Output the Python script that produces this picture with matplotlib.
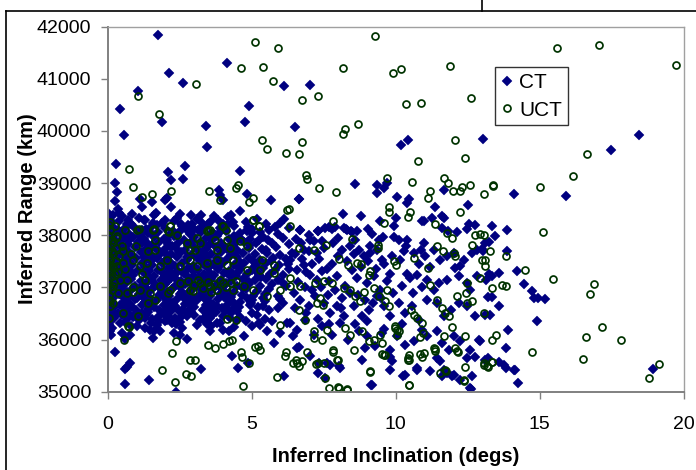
import matplotlib
matplotlib.use("Agg")
import matplotlib.pyplot as plt
from matplotlib.lines import Line2D

plt.rcParams['font.family'] = ['Liberation Sans', 'DejaVu Sans']

# ---------------- CT (correlated tracks) ----------------
ct_high = [(1.74,41850),(0.45,40420),(0.56,39920),(1.05,40760),(1.90,40165),(2.13,41110),(2.61,40920),
    (3.41,40090),(3.44,39690),(4.13,41300),(4.90,40470),(4.77,40170),(6.13,40860),(7.02,40880),(6.51,40080),
    (10.19,39740),(10.42,39820),(13.02,39840),(18.45,39915),(17.47,39640),
    (0.30,39370),(0.27,39010),(0.32,38830),(0.26,38660),(0.38,38500),(0.41,38420),(1.13,38700),(1.20,38540),
    (1.28,38300),(1.56,38640),(1.68,38420),(2.0,38680),(2.05,38720),(2.11,39215),(2.2,39065),(2.2,38550),
    (2.52,38410),(2.62,39085),(2.70,39335),(2.90,38380),(2.92,38210),(3.24,38380),(3.49,38220),(3.88,38860),
    (3.91,38770),(4.0,38680),(4.17,38345),(4.58,39230),(4.60,38465),(4.83,38800),(4.83,38080),(5.03,38045),
    (5.67,38670),(6.14,38305),(6.65,38700),(6.68,38105),(7.3,38090),(7.80,38120),(8.19,38140),(8.17,38410),
    (8.3,38105),(8.57,38980),(9.35,38970),(9.36,38820),(9.58,38905),(9.70,39000),(10.03,38735),(10.46,38705),
    (10.38,38620),(11.67,38875),(11.37,38540),(12.52,38585),(14.09,38785),(15.92,38745),(8.78,38375),
    (10.9,38265),(10.97,38265),(11.26,38330),(11.68,38335),(12.55,38215),(13.33,38185),(13.87,38105),
    (9.95,38170),(8.27,38120),(8.49,38055),(11.6,38375),(10.02,38331)]

ct_right = [(13.43,37980),(13.22,37865),(12.99,37735),(13.03,37690),(13.87,37705),(14.2,37320),(13.59,37285),
    (13.22,37265),(13.34,37210),(13.14,37135),(14.44,37070),(14.73,36925),(14.78,36795),(14.92,36795),
    (15.19,36775),(13.19,36825),(13.33,36810),(13.59,36635),(13.08,36480),(13.26,36480),(14.9,36365),
    (13.9,36185),(12.93,35980),(13.81,35835),(13.19,35645),(13.11,35615),(13.59,35570),(13.83,35455),
    (14.13,35410),(14.25,35170),(18.92,35440)]

ct_low = [(0.27,35755),(0.61,35140),(0.61,35435),(0.78,35550),(0.67,35475),(1.43,35215),(2.38,35000),
    (2.76,36020),(3.26,35440),(0.61,36020),(1.59,36030),(4.33,35690),(4.51,35445),(4.89,35550),(6.12,35295),
    (6.65,35855),(7.35,35550),(7.3,35360),(7.55,35260),(7.73,35520),(8.03,35485),(9.15,35135),(10.24,35310),
    (10.73,35455),(11.2,35390),(11.66,35420),(11.78,35360),(11.95,35295),(12.24,35230),(12.65,35310),
    (12.62,35050),(13.74,35505),(14.11,35420),(9.87,35580),(9.81,35660),(8.93,35830),(12.47,35645),
    (12.76,35675),(11.43,35645),(11.55,35580),(3.1,36285),(3.56,36160),(5.24,36320),(5.53,36160),(5.76,35935),
    (1.48,36190),(1.77,36350),(1.82,36160),(0.43,36320),(0.78,36095),(1.01,36255),(1.3,36415),(2.23,36320),
    (2.52,36095),(2.75,36445),(3.79,36320),(4.02,36190),(4.49,36380),(4.72,36065),(5.01,36255),(5.99,36125),
    (6.22,36320),(6.45,36065)]

ct_zero = [(0.05,38350),(0.12,38280),(0.03,38200),(0.2,38150),(0.08,38100),(0.3,38050),(0.04,37990),
    (0.15,37940),(0.25,37900),(0.06,37850),(0.35,37820),(0.1,37780),(0.02,37720),(0.22,37690),(0.3,37640),
    (0.07,37600),(0.16,37560),(0.04,37500),(0.28,37470),(0.11,37430),(0.02,37380),(0.2,37340),(0.33,37300),
    (0.06,37260),(0.14,37210),(0.03,37160),(0.25,37120),(0.09,37080),(0.18,37030),(0.02,36990),(0.3,36950),
    (0.1,36900),(0.05,36850),(0.2,36800),(0.12,36740),(0.03,36690),(0.27,36650),(0.08,36600),(0.15,36540),
    (0.04,36480),(0.22,36420),(0.1,36360),(0.05,36300),(0.16,36230),(0.07,36160),(0.12,36090),(0.03,38420),
    (0.18,38390)]

ct_core = [(0.5,38370),(1.1,38330),(1.6,38390),(2.4,38340),(3.1,38310),(4.3,38380),(5.2,38320),(0.85,38400),(3.7,38360),
    (0.4,38270),(0.8,38215),(1.3,38290),(1.9,38230),(2.3,38265),(2.8,38200),(3.6,38280),(4.0,38225),(4.8,38260),(5.5,38210),(6.0,38240),
    (0.6,38130),(0.9,38185),(1.2,38110),(1.5,38165),(2.0,38140),(2.6,38170),(3.0,38120),(3.4,38160),(3.9,38135),(4.4,38175),(5.0,38115),(5.8,38150),(6.3,38130),
    (0.45,38070),(0.75,38020),(1.05,38085),(1.4,38040),(1.75,38060),(2.15,38010),(2.5,38075),(2.85,38030),(3.25,38065),(3.7,38015),(4.1,38080),(4.6,38035),(5.3,38055),(5.9,38020),
    (0.55,37930),(0.9,37975),(1.25,37920),(1.6,37960),(1.95,37935),(2.3,37985),(2.65,37915),(3.0,37965),(3.4,37940),(3.8,37980),(4.2,37925),(4.55,37955),(4.95,37930),(5.4,37970),(6.1,37940),
    (0.4,37870),(0.7,37830),(1.05,37865),(1.4,37825),(1.8,37880),(2.1,37840),(2.45,37860),(2.8,37820),(3.2,37875),(3.55,37835),(3.95,37855),(4.35,37815),(4.75,37870),(5.15,37845),(5.7,37860),(6.3,37825),
    (0.6,37735),(0.95,37770),(1.3,37725),(1.65,37760),(2.0,37740),(2.35,37775),(2.7,37720),(3.05,37765),(3.4,37730),(3.75,37770),(4.15,37745),(4.5,37715),(4.9,37760),(5.35,37735),(5.85,37770),
    (0.45,37665),(0.8,37630),(1.15,37670),(1.5,37625),(1.85,37660),(2.2,37635),(2.55,37675),(2.9,37620),(3.25,37655),(3.6,37640),(3.95,37670),(4.3,37625),(4.7,37660),(5.1,37635),(5.55,37665),(6.0,37630),(6.4,37655),
    (0.65,37535),(1.0,37570),(1.35,37525),(1.7,37560),(2.05,37540),(2.4,37575),(2.75,37520),(3.1,37565),(3.45,37530),(3.8,37570),(4.15,37545),(4.55,37515),(4.9,37560),(5.3,37535),(5.75,37570),(6.2,37540),
    (0.5,37465),(0.85,37430),(1.2,37470),(1.55,37425),(1.9,37460),(2.25,37435),(2.6,37475),(2.95,37420),(3.3,37455),(3.65,37440),(4.0,37470),(4.4,37425),(4.75,37460),(5.15,37435),(5.5,37465),(5.95,37430),
    (0.4,37335),(0.7,37370),(1.05,37325),(1.4,37360),(1.75,37340),(2.1,37375),(2.45,37320),(2.8,37365),(3.15,37330),(3.5,37370),(3.85,37345),(4.2,37315),(4.6,37360),(5.0,37335),(5.4,37370),(5.8,37340),(6.3,37355),
    (0.55,37265),(0.9,37230),(1.25,37270),(1.6,37225),(1.95,37260),(2.3,37235),(2.65,37275),(3.0,37220),(3.35,37255),(3.7,37240),(4.05,37270),(4.45,37225),(4.85,37260),(5.25,37235),(5.65,37265),(6.1,37230),
    (0.45,37135),(0.8,37170),(1.15,37125),(1.5,37160),(1.85,37140),(2.2,37175),(2.55,37120),(2.9,37165),(3.25,37130),(3.6,37170),(3.95,37145),(4.3,37115),(4.7,37160),(5.1,37135),(5.5,37170),(5.9,37140),
    (0.6,37065),(0.95,37030),(1.3,37070),(1.65,37025),(2.0,37060),(2.35,37035),(2.7,37075),(3.05,37020),(3.4,37055),(3.75,37040),(4.1,37070),(4.5,37025),(4.9,37060),(5.3,37035),(5.7,37065),(6.2,37030),
    (0.5,36935),(0.85,36970),(1.2,36925),(1.55,36960),(1.9,36940),(2.25,36975),(2.6,36920),(2.95,36965),(3.3,36930),(3.65,36970),(4.0,36945),(4.4,36915),(4.8,36960),(5.2,36935),(5.6,36970),
    (0.4,36865),(0.75,36830),(1.1,36870),(1.45,36825),(1.8,36860),(2.15,36835),(2.5,36875),(2.85,36820),(3.2,36855),(3.55,36840),(3.9,36870),(4.3,36825),(4.65,36860),(5.05,36835),(5.45,36865),(5.9,36830),
    (0.6,36735),(0.95,36770),(1.3,36725),(1.7,36760),(2.05,36740),(2.4,36775),(2.8,36720),(3.1,36765),(3.5,36730),(3.85,36770),(4.2,36745),(4.6,36715),(5.0,36760),(5.45,36735),(6.0,36770),
    (0.45,36665),(0.85,36630),(1.2,36670),(1.6,36625),(1.95,36660),(2.35,36635),(2.7,36675),(3.0,36620),(3.4,36655),(3.8,36640),(4.15,36670),(4.55,36625),(4.95,36660),(5.4,36635),
    (0.55,36535),(1.0,36570),(1.4,36525),(1.8,36560),(2.2,36540),(2.6,36575),(2.9,36520),(3.3,36565),(3.75,36530),(4.1,36570),(4.5,36545),(5.0,36515),(5.6,36560),
    (0.5,36465),(0.9,36430),(1.35,36470),(1.75,36425),(2.1,36460),(2.55,36435),(3.0,36475),(3.55,36420),(4.0,36455),(4.6,36440),(5.2,36470),
    (0.6,36335),(1.1,36370),(1.5,36325),(2.0,36360),(2.5,36340),(3.2,36375),(3.9,36320),(4.8,36365),
    (0.8,36265),(1.3,36230),(1.7,36270),(2.6,36225),(3.6,36260),(4.4,36235),(5.3,36270),
    (0.5,36135),(1.6,36170),(2.3,36125),(4.2,36160)]

ct_core_extra = [(0.33,37020),(0.72,37390),(1.02,36790),(1.37,37610),(1.62,37080),(1.97,37490),(2.27,36700),
    (2.58,37300),(2.88,37880),(3.18,37190),(3.52,36590),(3.83,37400),(4.08,36880),(4.38,37700),(4.68,37000),
    (5.08,37400),(5.38,36800),(5.68,37500),(6.05,37100),(0.38,37600),(0.68,36580),(1.12,38000),(1.42,36950),
    (1.77,37700),(2.07,36380),(2.42,37150),(2.72,38120),(3.02,36800),(3.33,37520),(3.67,38050),(3.98,36600),
    (4.28,37250),(4.62,37920),(4.97,36700),(5.32,37200),(5.62,38100),(5.92,36600),(6.25,37450),(0.82,37300),
    (1.18,37850),(1.48,36650),(1.88,37300),(2.18,37800),(2.48,36550),(2.92,37050),(3.28,38230),(3.58,36450),
    (3.9,37100),(4.22,36550),(4.52,37300),(4.88,38150),(5.22,36620),(5.58,37900),(6.08,36700),(0.95,36480),
    (1.58,38230),(2.38,36300),(3.45,36300),(4.35,38250),(5.45,36400),(0.35,36500),(0.7,38300),(2.0,38300),
    (3.85,38300),(5.7,36350)]

ct_core_fill = [(0.68,38210),(1.72,38190),(2.55,38220),(3.32,38185),(4.15,38205),
    (0.35,38095),(1.32,38120),(2.28,38080),(3.15,38110),(3.95,38090),(4.85,38105),
    (0.62,37990),(1.55,38015),(2.4,37980),(3.55,38020),(4.4,37995),
    (0.75,37905),(1.12,37885),(2.05,37915),(2.95,37890),(3.62,37910),(4.45,37880),(5.25,37905),
    (0.52,37795),(1.55,37815),(2.25,37790),(3.35,37810),(4.05,37785),(4.95,37805),
    (0.72,37690),(1.42,37710),(2.48,37685),(3.18,37705),(4.3,37695),(5.5,37710),
    (0.58,37610),(1.28,37585),(2.08,37615),(2.75,37590),(3.45,37605),(4.5,37590),
    (0.78,37490),(1.52,37510),(2.17,37495),(3.25,37515),(3.98,37485),(5.05,37505),
    (0.55,37410),(1.3,37385),(2.35,37405),(3.05,37390),(3.75,37410),(4.55,37395),
    (0.62,37290),(1.45,37310),(2.2,37295),(2.95,37315),(3.55,37285),(4.3,37305),(5.2,37295),
    (0.72,37190),(1.4,37210),(2.1,37185),(2.8,37205),(3.5,37195),(4.25,37210),
    (0.62,37110),(1.32,37090),(2.05,37105),(2.75,37095),(3.42,37110),(4.12,37090),(4.9,37105),
    (0.48,36990),(1.15,37010),(1.82,36985),(2.5,37005),(3.2,36995),(3.9,37010),(4.7,36990),
    (0.68,36910),(1.38,36890),(2.05,36905),(2.78,36890),(3.45,36910),(4.2,36895),
    (0.58,36790),(1.22,36810),(1.98,36795),(2.65,36805),(3.35,36790),(4.05,36810),(4.85,36795),
    (0.78,36690),(1.5,36710),(2.2,36695),(2.95,36705),(3.65,36690),(4.4,36710),
    (0.65,36610),(1.4,36590),(2.05,36605),(2.85,36595),(3.6,36610),(4.35,36590),
    (0.75,36490),(1.2,36510),(1.95,36495),(2.75,36505),(3.45,36490),(4.3,36510),
    (0.7,36410),(1.55,36390),(2.35,36405),(3.3,36395),(4.25,36405)]

ct_mid = [(6.66,38695),(6.69,38107),(7.31,38088),(7.55,38139),(7.7,38152),(7.9,38158),(8.46,38075),(8.65,38088),
    (9.02,38120),(9.18,38030),(9.44,38267),(9.42,37915),(9.56,37960),(9.93,37966),(10.1,37915),(10.39,37915),
    (10.37,37787),(10.99,37851),(11.6,38139),(11.8,38075),(12.13,38056),(12.47,38120),(12.76,38203),(13.11,37851),
    (6.54,37928),(7.03,37915),(7.17,37883),(7.44,37883),(6.8,37724),(6.98,37691),(7.27,37659),(7.84,37851),
    (8.13,37724),(8.42,37787),(8.71,37724),(8.89,37596),(9.12,37660),(9.35,37724),(9.52,37532),(9.87,37596),
    (10.16,37532),(10.62,37660),(10.88,37724),(11.03,37596),(11.34,37724),(11.55,37532),(11.78,37596),
    (12.01,37660),(12.24,37404),(12.36,37532),(12.65,37660),(12.82,37724),
    (6.34,37532),(6.57,37340),(6.8,37436),(7.03,37244),(7.27,37148),(7.44,37308),(7.67,37116),(7.96,37212),
    (8.25,37021),(8.48,37340),(8.65,37180),(9.0,37085),(9.23,37212),(9.46,36956),(9.7,37116),(10.22,37021),
    (10.51,37180),(10.74,37244),(11.08,37148),(11.32,36956),(11.49,37085),(11.78,37148),(12.07,37372),
    (12.18,37212),(12.47,37085),(12.59,36956),(12.82,37212),
    (6.46,36892),(6.69,36764),(6.98,36636),(7.21,36828),(7.5,36700),(7.73,36508),(7.96,36636),(8.19,36445),
    (8.54,36636),(8.83,36445),(9.06,36572),(9.35,36828),(9.58,36636),(9.81,36445),(10.1,36700),(10.33,36508),
    (10.56,36636),(10.8,36380),(11.08,36764),(11.43,36700),(11.66,36445),(11.9,36572),(12.18,36700),
    (12.47,36636),(12.76,36445),
    (6.34,36316),(6.57,36189),(6.86,36380),(7.15,36093),(7.44,36253),(7.79,36093),(8.08,36316),(8.36,35997),
    (8.71,36157),(9.0,36061),(9.29,35870),(9.52,36125),(9.81,35806),(10.04,36061),(10.33,35901),(10.62,35965),
    (10.91,36189),(11.08,36061),(11.43,36157),(11.6,35933),(11.84,35806),(12.01,36061),(12.24,35965),
    (12.59,35806),(12.88,35997),
    (6.57,35838),(7.03,35678),(7.61,35550),(8.08,35454),(8.83,35614),(9.18,35134),(9.81,35422),(10.33,35326),
    (10.74,35422),(11.6,35294),(12.01,35326),(12.59,35070),
    (6.5,37650),(6.75,37550),(6.9,37300),(7.1,37450),(7.35,37550),(7.6,37350),(7.8,37450),(8.0,37600),
    (8.3,37500),(8.55,37650),(8.8,37400),(9.05,37500),(9.3,37350),(9.6,37450),(9.8,37250),(6.6,37100),
    (6.85,37000),(7.1,36950),(7.4,37000),(7.65,36850),(7.9,36950),(8.15,36800),(8.4,36900),(8.7,36850),
    (8.95,36750),(9.2,36700),(9.5,36800),(9.9,36900),(6.7,37850),(7.0,38000),(7.5,37750),(8.0,37950),
    (8.6,37900),(9.1,37800),(6.5,36600),(6.9,36500),(7.3,36400),(7.7,36300),(8.1,36600),(8.6,36300),
    (9.0,36350),(9.6,36200),(10.2,36300),(10.4,37250),(10.6,36900),(10.9,37000),(11.2,37400),(10.3,37700),
    (10.8,37450)]

# ---------------- UCT (uncorrelated tracks) ----------------
uct_high = [(1.06,40680),(1.78,40335),(3.06,40900),(4.64,41205),(5.11,41700),(5.40,41230),(5.92,41585),
    (5.75,40950),(6.74,40600),(7.31,40675),(5.35,39835),(5.54,39655),(6.19,39585),(6.64,39550),(6.74,39780),
    (8.18,41200),(9.27,41825),(8.16,39940),(8.25,40030),(8.69,40125),(9.89,41110),(10.18,41190),(10.35,40515),
    (10.86,40535),(11.88,41245),(12.60,40630),(12.06,39835),(12.39,39480),(10.78,39415),(15.58,41590),
    (17.06,41655),(19.72,41275),(16.64,39560),(16.16,39140),(14.99,38930),(15.11,38060),
    (0.74,39275),(0.89,38930),(1.19,38725),(1.53,38785),(2.2,38840),(3.51,38855),(3.91,38680),(4.47,38900),
    (4.54,38955),(4.9,38640),(5.04,38720),(6.9,39150),(6.93,39085),(7.33,38905),(6.29,38505),(7.93,38830),
    (7.82,38275),(3.5,38105),(5.04,38300),(5.27,38170),(3.98,38170),(4.11,38110),(2.18,38170),(2.15,38060),
    (1.63,38125),(1.1,38125),(0.32,37980),(9.68,39100),(10.56,39015),(11.68,39090),(11.80,39000),
    (11.97,38855),(12.24,38855),(12.31,38935),(12.58,38965),(13.05,38790),(13.39,38950),(11.2,38840),
    (11.13,38720),(9.76,38540),(9.78,38455),(10.49,38450),(10.44,38355),(11.37,38225),(12.24,38450),
    (9.59,38235),(13.37,38955)]

uct_mid = [(8.49,37935),(9.37,37820),(9.37,37755),(6.66,37755),(7.15,37725),(7.59,37820),(8.02,37545),
    (8.36,37435),(8.65,37470),(8.79,37455),(9.12,37310),(9.06,37245),(9.93,37500),(10.02,37435),(10.62,37565),
    (11.11,37370),(11.43,37790),(11.64,37690),(11.95,37945),(12.01,37660),(12.07,37595),(11.78,38045),
    (12.65,37820),(12.76,38010),(12.94,38020),(13.05,38005),(12.99,37530),(13.11,37405),(6.34,37180),
    (6.69,37020),(7.21,37085),(7.5,37115),(7.79,37085),(8.19,36990),(8.42,36955),(8.6,36830),(8.77,36730),
    (7.38,36795),(7.27,36700),(7.47,36670),(8.89,36905),(9.23,36990),(9.41,36830),(9.64,36730),(9.75,36635),
    (9.7,36955),(10.54,36570),(10.62,36475),(10.74,36415),(10.91,36315),(11.2,37055),(11.43,36765),
    (11.6,36605),(11.72,36510),(11.84,36445),(12.13,36830),(12.42,36890),(12.47,36700),(12.47,37085),
    (12.65,36730),(13.05,36510),(6.63,36570),(6.86,36380),(7.15,36155),(7.44,35995),(7.84,35805),
    (7.96,35615),(7.5,35550),(8.42,36095),(8.83,36155),(9.06,35965),(9.12,35390),(9.44,36095),(9.58,35710),
    (9.99,36255),(10.1,36155),(10.04,36095),(10.45,35710),(10.45,35615),(10.97,35740),(11.32,35835),
    (11.37,35775),(11.72,35420),(12.07,35835),(12.13,35775),(13.05,35550),(13.17,35485),(6.74,35580),
    (6.57,35550),(7.32,35550),(7.55,35260),(7.67,35070),(8.02,35070),(8.31,35040),(12.36,35230),(10.45,35135)]

uct_right = [(13.28,37705),(13.81,37595),(13.08,37525),(14.49,37340),(15.44,37165),(12.93,37180),
    (13.69,37050),(13.83,37020),(13.33,36980),(16.88,37075),(16.74,36875),(17.16,36235),(16.59,36050),
    (17.81,35995),(13.49,36085),(13.34,35990),(14.74,35770),(16.5,35625),(13.34,35575),(13.05,35505),
    (13.19,35465),(19.15,35530),(18.79,35270)]

uct_low = [(0.57,35985),(0.75,36240),(1.9,35420),(2.25,35740),(2.38,35975),(2.34,35190),(2.74,35340),
    (2.89,35295),(2.86,35610),(3.04,35610),(3.5,35905),(3.73,35835),(3.99,35915),(4.23,35965),(4.33,35995),
    (4.16,36390),(4.46,36380),(4.64,35770),(4.68,35675),(4.92,35550),(4.70,35100),(5.11,35850),(5.22,35870),
    (5.30,35805),(5.87,35290),(6.19,35770),(6.16,35690),(6.43,35550),(6.65,35500),(6.55,35615),(5.99,36285),
    (6.92,35765),(7.24,35530),(8.01,35095),(8.30,35050),(7.84,35770),(7.98,35600),(8.25,36220),
    (7.17,36030),(7.61,36190),(0.06,36415),(0.06,36750),(9.09,35385),(10.47,35125),(11.55,35360),
    (11.76,35400),(12.36,35210),(12.41,35465),(13.35,35570),(8.55,35800),(9.54,35715),(9.64,35710),
    (10.44,35645),(10.42,35600),(10.85,35730),(10.91,35675),(11.35,35825),(12.16,35770),(11.95,36240),
    (12.39,36075),(9.52,35935),(9.23,36000),(9.98,36220),(10.04,36190),(10.83,36050),(10.93,36125),(11.68,36060)]

uct_core = [(0.09,38107),(0.26,38171),(0.61,38107),(1.01,38107),(1.59,38107),(1.65,37916),(1.65,37724),
    (2.11,38075),(2.17,38171),(2.4,38012),(2.75,37852),(2.86,37724),(3.04,37724),(3.21,37852),(3.1,37948),
    (3.44,38075),(3.56,38107),(3.73,37916),(3.79,37724),(4.02,38171),(4.14,37916),(4.25,37756),(4.6,37884),
    (4.83,37788),(5.06,38299),(5.24,38171),(5.35,37532),(5.76,37436),(6.22,38491),(6.34,38171),
    (0.09,37532),(0.32,37404),(0.55,37468),(0.9,37532),(1.13,37404),(1.36,37468),(1.82,37404),(2.05,37532),
    (2.52,37404),(2.86,37532),(3.1,37404),(3.44,37468),(3.79,37532),(4.14,37436),(4.37,37532),(4.83,37341),
    (5.3,37341),(5.76,37277),(0.02,37085),(0.2,37021),(0.67,37149),(1.13,36957),(1.48,36893),(1.82,37021),
    (2.17,36957),(2.52,37085),(2.86,36957),(3.21,37085),(3.56,37021),(3.79,36957),(4.02,37085),(4.37,36957),
    (4.72,37021),(5.06,36957),(5.53,36829),(5.99,36957),(6.34,37021),(0.09,36638),(0.55,36510),(0.72,36254),
    (1.07,36446),(1.42,36702),(1.65,36765),(2.11,36893),(2.8,37120),(3.0,37050),(3.15,37150),(3.3,36980),
    (3.5,37100),(3.7,37060),(3.9,37150),(4.1,37000),(4.3,37080),(3.6,36920),(2.95,36940),(4.45,37130),
    (0.05,38200),(0.1,38100),(0.03,38000),(0.15,37900),(0.08,37800),(0.02,37700),(0.2,37650),(0.1,37550),
    (0.04,37450),(0.18,37400),(0.07,37300),(0.12,37200),(0.02,37150),(0.22,37100),(0.08,37000),(0.15,36950),
    (0.04,36850),(0.3,37500),(0.3,37750),(0.35,37300),(0.28,37950),(0.4,37600),(0.45,37150),(0.25,37250),
    (0.2,37850),(0.05,37600),(0.12,37420),(0.06,37520),(0.15,37700),(0.03,37350),(0.1,38250),(0.0,37900),
    (0.5,37800),(0.6,37350),(0.55,37700),(0.8,37650),(1.0,37800),(1.2,37250),(1.4,37700),(0.9,37000),
    (1.3,37150),(0.35,36900),(0.2,36700),(0.67,36890),(0.9,36920),(0.09,36730)]

x_ticks = [0, 5, 10, 15, 20]
y_ticks = [35000, 36000, 37000, 38000, 39000, 40000, 41000, 42000]

ct_points = ct_high + ct_right + ct_low + ct_zero + ct_core + ct_core_extra + ct_core_fill + ct_mid
uct_points = uct_high + uct_mid + uct_right + uct_low + uct_core
ct_x = [p[0] for p in ct_points]; ct_y = [p[1] for p in ct_points]
uct_x = [p[0] for p in uct_points]; uct_y = [p[1] for p in uct_points]

fig = plt.figure(figsize=(6.96, 4.70), dpi=100)
ax = fig.add_axes([107.5/696, 1-391.7/470, (684-107.5)/696, (391.7-26.7)/470])

ax.plot(ct_x, ct_y, linestyle='none', marker='D', markersize=4.9,
        markerfacecolor='#000080', markeredgecolor='#000080', markeredgewidth=0.3, label='CT')
ax.plot(uct_x, uct_y, linestyle='none', marker='o', markersize=5.0,
        markerfacecolor='none', markeredgecolor='#003300', markeredgewidth=1.25, label='UCT')

ax.set_xlim(0, 20)
ax.set_ylim(35000, 42000)
ax.set_xticks(x_ticks)
ax.set_yticks(y_ticks)
ax.set_xticklabels([str(v) for v in x_ticks])
ax.set_yticklabels([str(v) for v in y_ticks])
ax.tick_params(axis='both', direction='out', length=5, width=1.0, color='#808080', labelsize=14)
ax.tick_params(axis='x', pad=12.3)
ax.tick_params(axis='y', pad=6.6)
for s in ['left', 'bottom']:
    ax.spines[s].set_color('#808080')
    ax.spines[s].set_linewidth(1.4)
for s in ['top', 'right']:
    ax.spines[s].set_color('#a0a0a0')
    ax.spines[s].set_linewidth(1.0)

fig.text(396/696, 8.5/470, 'Inferred Inclination (degs)', ha='center', va='baseline',
         fontsize=14.5, fontweight='bold')
fig.text(33.3/696, 1-209/470, 'Inferred Range (km)', ha='center', va='baseline',
         rotation=90, rotation_mode='anchor', fontsize=14.5, fontweight='bold')

leg = ax.legend(loc='upper left', bbox_to_anchor=((495-107.5)/576.5, (391.7-67)/365),
                frameon=True, fancybox=False, fontsize=15, handlelength=0.58,
                handletextpad=0.3, borderpad=0.28, labelspacing=0.42, borderaxespad=0)
leg.get_frame().set_edgecolor('black')
leg.get_frame().set_linewidth(1.0)

# outer document frame lines
fig.add_artist(Line2D([5.5/696, 5.5/696], [0, 1-10.5/470], transform=fig.transFigure, color='black', lw=1.2))
fig.add_artist(Line2D([5.5/696, 1], [1-10.5/470, 1-10.5/470], transform=fig.transFigure, color='black', lw=1.2))
fig.add_artist(Line2D([482.3/696, 482.3/696], [1-10.5/470, 1], transform=fig.transFigure, color='black', lw=1.2))

fig.savefig('out.png', dpi=100)
